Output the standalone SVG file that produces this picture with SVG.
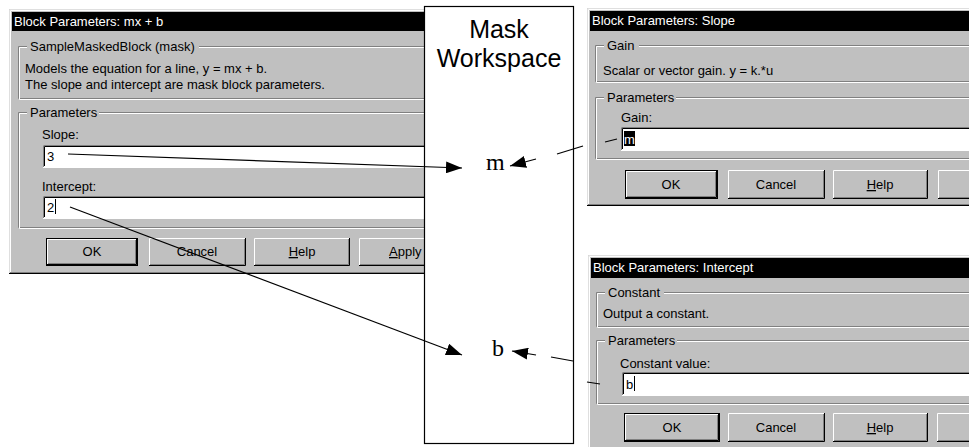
<svg xmlns="http://www.w3.org/2000/svg" width="969" height="447" viewBox="0 0 969 447">
<style>
text{font-family:"Liberation Sans",Arial,sans-serif;font-size:13px;fill:#000}
.tt{fill:#fff}
.face{fill:#c0c0c0}
.ln{fill:none;stroke-width:1}
.dk{stroke:#808080}
.wh{stroke:#fff}
.bk{stroke:#000}
.lt{stroke:#dfdfdf}
.c{text-anchor:middle}
.serif{font-family:"Liberation Serif","Times New Roman",serif;font-size:24px}
.big{font-size:25px;text-anchor:middle}
.conn line{stroke:#000;stroke-width:1.2;fill:none}
</style>
<defs>
<marker id="ah" viewBox="0 0 16 12" refX="16" refY="6" markerWidth="16" markerHeight="12" markerUnits="userSpaceOnUse" orient="auto"><path d="M0,0 L16,6 L0,12 z" fill="#000"/></marker>
</defs>
<rect width="969" height="447" fill="#fff"/>

<g id="dialog-mxb">
<rect x="9" y="9" width="416" height="265" class="face"/>
<path class="ln lt" d="M9.5,273 V9.5 H425"/>
<path class="ln wh" d="M10.5,272 V10.5 H425"/>
<path class="ln bk" d="M9,273.5 H425"/>
<path class="ln dk" d="M10,272.5 H425"/>
<rect x="12" y="12" width="413" height="19" fill="#000"/>
<text class="tt" x="14" y="26">Block Parameters: mx + b</text>
<path class="ln dk" d="M430,46.5 H18.5 V98.5 H430"/>
<path class="ln wh" d="M430,47.5 H19.5 V99.5 H430"/>
<rect x="27" y="40" width="172" height="12" class="face"/>
<text x="30" y="51">SampleMaskedBlock (mask)</text>
<text x="25" y="73">Models the equation for a line, y = mx + b.</text>
<text x="25" y="89">The slope and intercept are mask block parameters.</text>
<path class="ln dk" d="M430,112.5 H18.5 V227.5 H430"/>
<path class="ln wh" d="M430,113.5 H19.5 V228.5 H430"/>
<rect x="27" y="106" width="72" height="12" class="face"/>
<text x="30" y="117">Parameters</text>
<text x="42" y="139">Slope:</text>
<rect x="43" y="145" width="390" height="22" fill="#fff"/>
<path class="ln dk" d="M43.5,167 V145.5 H430"/>
<path class="ln bk" d="M44.5,166 V146.5 H430"/>
<path class="ln wh" d="M43,167.5 H430"/>
<text x="47" y="161">3</text>
<text x="42" y="191">Intercept:</text>
<rect x="43" y="196" width="390" height="22" fill="#fff"/>
<path class="ln dk" d="M43.5,218 V196.5 H430"/>
<path class="ln bk" d="M44.5,217 V197.5 H430"/>
<path class="ln wh" d="M43,218.5 H430"/>
<text x="47" y="212">2</text>
<path class="ln bk" d="M55.5,199 V214"/>
<g id="btn-ok-1">
<rect x="46" y="238" width="92" height="28" class="face"/>
<rect x="46.5" y="238.5" width="91" height="27" class="ln bk"/>
<path class="ln wh" d="M47.5,264 V239.5 H136"/>
<path class="ln bk" d="M47,264.5 H136.5 V239"/>
<path class="ln dk" d="M48,263.5 H135.5 V240"/>
<text class="c" x="92" y="256">OK</text>
</g>
<g id="btn-cancel-1">
<rect x="149" y="238" width="97" height="28" class="face"/>
<path class="ln wh" d="M149.5,265 V238.5 H245"/>
<path class="ln bk" d="M149,265.5 H245.5 V238"/>
<path class="ln dk" d="M150,264.5 H244.5 V239"/>
<text class="c" x="197" y="256">Cancel</text>
</g>
<g id="btn-help-1">
<rect x="254" y="238" width="96" height="28" class="face"/>
<path class="ln wh" d="M254.5,265 V238.5 H349"/>
<path class="ln bk" d="M254,265.5 H349.5 V238"/>
<path class="ln dk" d="M255,264.5 H348.5 V239"/>
<text class="c" x="302" y="256"><tspan text-decoration="underline">H</tspan>elp</text>
</g>
<g id="btn-apply-1">
<rect x="359" y="238" width="70" height="28" class="face"/>
<path class="ln wh" d="M359.5,265 V238.5 H430"/>
<path class="ln bk" d="M359,265.5 H430"/>
<path class="ln dk" d="M360,264.5 H430"/>
<text x="389" y="256"><tspan text-decoration="underline">A</tspan>pply</text>
</g>
</g>

<g id="dialog-slope">
<rect x="587" y="8" width="390" height="198" class="face"/>
<path class="ln lt" d="M587.5,205 V8.5 H969"/>
<path class="ln wh" d="M588.5,204 V9.5 H969"/>
<path class="ln bk" d="M587,205.5 H969"/>
<path class="ln dk" d="M588,204.5 H969"/>
<rect x="590" y="11" width="379" height="20" fill="#000"/>
<text class="tt" x="592" y="25">Block Parameters: Slope</text>
<path class="ln dk" d="M969,45.5 H595.5 V81.5 H969"/>
<path class="ln wh" d="M969,46.5 H596.5 V82.5 H969"/>
<rect x="604" y="39" width="35" height="12" class="face"/>
<text x="607" y="50">Gain</text>
<text x="603" y="75">Scalar or vector gain. y = k.*u</text>
<path class="ln dk" d="M969,97.5 H595.5 V158.5 H969"/>
<path class="ln wh" d="M969,98.5 H596.5 V159.5 H969"/>
<rect x="604" y="91" width="72" height="12" class="face"/>
<text x="607" y="102">Parameters</text>
<text x="621" y="122">Gain:</text>
<rect x="621" y="127" width="360" height="23" fill="#fff"/>
<path class="ln dk" d="M621.5,150 V127.5 H969"/>
<path class="ln bk" d="M622.5,149 V128.5 H969"/>
<path class="ln wh" d="M621,150.5 H969"/>
<rect x="624" y="131" width="11" height="15" fill="#000"/>
<text class="tt" x="624" y="144">m</text>
<g id="btn-ok-2">
<rect x="625" y="170" width="93" height="29" class="face"/>
<rect x="625.5" y="170.5" width="92" height="28" class="ln bk"/>
<path class="ln wh" d="M626.5,197 V171.5 H716"/>
<path class="ln bk" d="M626,197.5 H716.5 V171"/>
<path class="ln dk" d="M627,196.5 H715.5 V172"/>
<text class="c" x="671" y="189">OK</text>
</g>
<g id="btn-cancel-2">
<rect x="728" y="170" width="97" height="29" class="face"/>
<path class="ln wh" d="M728.5,198 V170.5 H824"/>
<path class="ln bk" d="M728,198.5 H824.5 V170"/>
<path class="ln dk" d="M729,197.5 H823.5 V171"/>
<text class="c" x="776" y="189">Cancel</text>
</g>
<g id="btn-help-2">
<rect x="833" y="170" width="95" height="29" class="face"/>
<path class="ln wh" d="M833.5,198 V170.5 H927"/>
<path class="ln bk" d="M833,198.5 H927.5 V170"/>
<path class="ln dk" d="M834,197.5 H926.5 V171"/>
<text class="c" x="880" y="189"><tspan text-decoration="underline">H</tspan>elp</text>
</g>
<g id="btn-apply-2">
<rect x="938" y="170" width="40" height="29" class="face"/>
<path class="ln wh" d="M938.5,198 V170.5 H969"/>
<path class="ln bk" d="M938,198.5 H969"/>
<path class="ln dk" d="M939,197.5 H969"/>
</g>
</g>

<g id="dialog-intercept">
<rect x="588" y="255" width="390" height="200" class="face"/>
<path class="ln lt" d="M588.5,447 V255.5 H969"/>
<path class="ln wh" d="M589.5,447 V256.5 H969"/>
<rect x="591" y="258" width="378" height="20" fill="#000"/>
<text class="tt" x="593" y="272">Block Parameters: Intercept</text>
<path class="ln dk" d="M969,292.5 H596.5 V326.5 H969"/>
<path class="ln wh" d="M969,293.5 H597.5 V327.5 H969"/>
<rect x="605" y="286" width="59" height="12" class="face"/>
<text x="608" y="297">Constant</text>
<text x="603" y="318">Output a constant.</text>
<path class="ln dk" d="M969,340.5 H596.5 V403.5 H969"/>
<path class="ln wh" d="M969,341.5 H597.5 V404.5 H969"/>
<rect x="605" y="334" width="72" height="12" class="face"/>
<text x="608" y="345">Parameters</text>
<text x="620" y="368">Constant value:</text>
<rect x="622" y="372" width="360" height="23" fill="#fff"/>
<path class="ln dk" d="M622.5,395 V372.5 H969"/>
<path class="ln bk" d="M623.5,394 V373.5 H969"/>
<path class="ln wh" d="M622,395.5 H969"/>
<text x="626" y="389">b</text>
<path class="ln bk" d="M634.5,376 V391"/>
<g id="btn-ok-3">
<rect x="624" y="413" width="96" height="29" class="face"/>
<rect x="624.5" y="413.5" width="95" height="28" class="ln bk"/>
<path class="ln wh" d="M625.5,440 V414.5 H718"/>
<path class="ln bk" d="M625,440.5 H718.5 V414"/>
<path class="ln dk" d="M626,439.5 H717.5 V415"/>
<text class="c" x="672" y="432">OK</text>
</g>
<g id="btn-cancel-3">
<rect x="728" y="413" width="97" height="29" class="face"/>
<path class="ln wh" d="M728.5,441 V413.5 H824"/>
<path class="ln bk" d="M728,441.5 H824.5 V413"/>
<path class="ln dk" d="M729,440.5 H823.5 V414"/>
<text class="c" x="776" y="432">Cancel</text>
</g>
<g id="btn-help-3">
<rect x="833" y="413" width="95" height="29" class="face"/>
<path class="ln wh" d="M833.5,441 V413.5 H927"/>
<path class="ln bk" d="M833,441.5 H927.5 V413"/>
<path class="ln dk" d="M834,440.5 H926.5 V414"/>
<text class="c" x="880" y="432"><tspan text-decoration="underline">H</tspan>elp</text>
</g>
<g id="btn-apply-3">
<rect x="937" y="413" width="40" height="29" class="face"/>
<path class="ln wh" d="M937.5,441 V413.5 H969"/>
<path class="ln bk" d="M937,441.5 H969"/>
<path class="ln dk" d="M938,440.5 H969"/>
</g>
</g>

<g id="mask-workspace">
<rect x="424.5" y="6.5" width="149" height="437" fill="#fff" stroke="#000" stroke-width="1.2"/>
<text class="big" x="499" y="38">Mask</text>
<text class="big" x="499" y="67">Workspace</text>
</g>
<g id="var-m"><text class="serif" x="486" y="170">m</text></g>
<g id="var-b"><text class="serif" x="492" y="356">b</text></g>

<g id="connectors" class="conn">
<line x1="68" y1="154" x2="462" y2="168" marker-end="url(#ah)"/>
<line x1="70" y1="207" x2="462" y2="355" marker-end="url(#ah)"/>
<line x1="536" y1="159" x2="510" y2="166" marker-end="url(#ah)"/>
<line x1="557" y1="154" x2="583" y2="146"/>
<line x1="605" y1="142" x2="617" y2="139"/>
<line x1="536" y1="355" x2="512" y2="351" marker-end="url(#ah)"/>
<line x1="551" y1="357" x2="573" y2="361"/>
<line x1="587" y1="382" x2="600" y2="384"/>
</g>
</svg>
